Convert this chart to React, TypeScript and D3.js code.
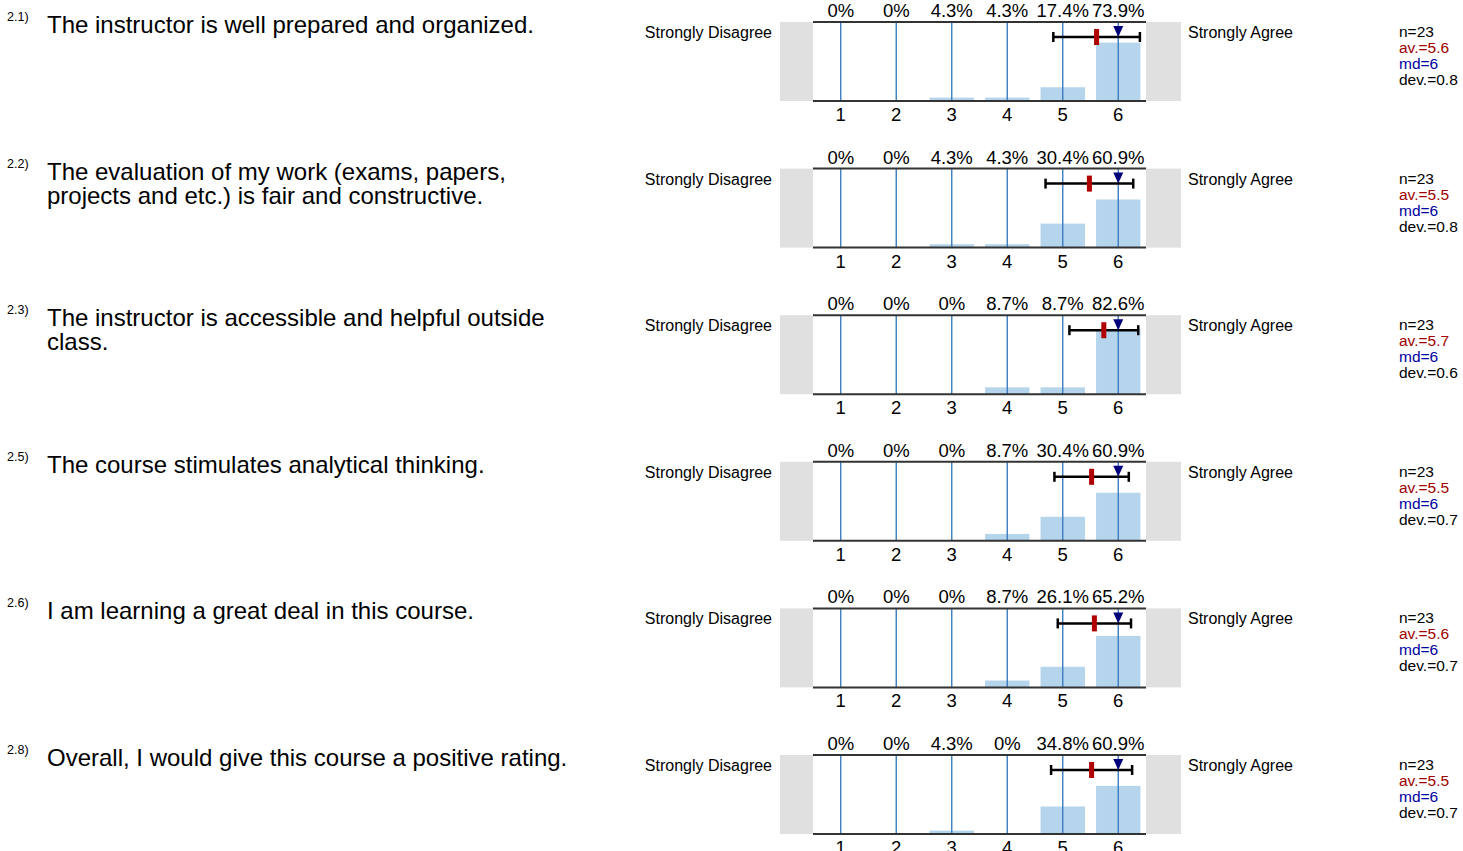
import { scaleBand, scaleLinear } from 'd3';

const numbers = ['2.1)', '2.2)', '2.3)', '2.5)', '2.6)', '2.8)'];
const questions = [
  ['The instructor is well prepared and organized.'],
  ['The evaluation of my work (exams, papers,', 'projects and etc.) is fair and constructive.'],
  ['The instructor is accessible and helpful outside', 'class.'],
  ['The course stimulates analytical thinking.'],
  ['I am learning a great deal in this course.'],
  ['Overall, I would give this course a positive rating.'],
];
const scale = ['1', '2', '3', '4', '5', '6'];
const percents = [
  [0, 0, 4.3, 4.3, 17.4, 73.9],
  [0, 0, 4.3, 4.3, 30.4, 60.9],
  [0, 0, 0, 8.7, 8.7, 82.6],
  [0, 0, 0, 8.7, 30.4, 60.9],
  [0, 0, 0, 8.7, 26.1, 65.2],
  [0, 0, 4.3, 0, 34.8, 60.9],
];
const counts = [23, 23, 23, 23, 23, 23];
const means = [5.61, 5.48, 5.74, 5.52, 5.57, 5.52];
const medians = [6, 6, 6, 6, 6, 6];
const devs = [0.78, 0.79, 0.62, 0.67, 0.66, 0.73];

const FONT = '"Liberation Sans", Arial, sans-serif';

export default function App() {
  const width = 1463;
  const height = 851;
  const left = 813;
  const right = 1146;
  const firstTop = 22;
  const step = 146.6;
  const plotH = 79;

  const x = scaleBand<string>().domain(scale).range([left, right]).paddingInner(0.2).paddingOuter(0.1);
  const xv = scaleLinear().domain([0.5, 6.5]).range([left, right]);
  const lineColor = '#3a7cc0';

  return (
    <svg width={width} height={height} style={{ position: 'absolute', left: 0, top: 0 }} fontFamily={FONT}>
      {questions.map((lines, i) => {
        const top = firstTop + i * step;
        const bottom = top + plotH;
        const y = scaleLinear().domain([0, 100]).range([bottom, top]);
        const barY = top + 15;
        const mx = xv(means[i]);
        const lo = xv(means[i] - devs[i]);
        const hi = xv(means[i] + devs[i]);
        const md = xv(medians[i]);
        return (
          <g key={i}>
            <text x={7} y={top - 1} fontSize={12.5}>{numbers[i]}</text>
            {lines.map((l, j) => (
              <text key={j} x={47} y={top + 11 + j * 24} fontSize={24}>{l}</text>
            ))}
            <text x={772} y={top + 16} fontSize={16} textAnchor="end">Strongly Disagree</text>
            <text x={1188} y={top + 16} fontSize={16}>Strongly Agree</text>
            <rect x={780} y={top} width={left - 780} height={plotH} fill="#e0e0e0" />
            <rect x={right} y={top} width={1181 - right} height={plotH} fill="#e0e0e0" />
            {percents[i].map((p, k) => (
              <rect key={k} x={x(scale[k])} y={y(p)} width={x.bandwidth()} height={bottom - y(p)} fill="#b5d5ec" />
            ))}
            {scale.map((s, k) => (
              <g key={s}>
                <line x1={xv(k + 1)} x2={xv(k + 1)} y1={top} y2={bottom} stroke={lineColor} strokeWidth={1.4} />
                <text x={xv(k + 1)} y={top - 5} fontSize={18.5} textAnchor="middle">{`${percents[i][k]}%`}</text>
                <text x={xv(k + 1)} y={bottom + 20} fontSize={18.5} textAnchor="middle">{s}</text>
              </g>
            ))}
            <line x1={left} x2={right} y1={top} y2={top} stroke="#333" strokeWidth={2} />
            <line x1={left} x2={right} y1={bottom} y2={bottom} stroke="#333" strokeWidth={2} />
            <line x1={lo} x2={hi} y1={barY} y2={barY} stroke="#000" strokeWidth={2.5} />
            <line x1={lo} x2={lo} y1={barY - 5} y2={barY + 5} stroke="#000" strokeWidth={2.5} />
            <line x1={hi} x2={hi} y1={barY - 5} y2={barY + 5} stroke="#000" strokeWidth={2.5} />
            <rect x={mx - 2.5} y={barY - 8} width={5} height={16} fill="#b00000" />
            <path d={`M${md - 5},${top + 4}L${md + 5},${top + 4}L${md},${barY}Z`} fill="#00007a" />
            <text x={1399} y={top + 15} fontSize={15.5}>{`n=${counts[i]}`}</text>
            <text x={1399} y={top + 31} fontSize={15.5} fill="#a00000">{`av.=${means[i].toFixed(1)}`}</text>
            <text x={1399} y={top + 47} fontSize={15.5} fill="#0000a0">{`md=${medians[i]}`}</text>
            <text x={1399} y={top + 63} fontSize={15.5}>{`dev.=${devs[i].toFixed(1)}`}</text>
          </g>
        );
      })}
    </svg>
  );
}
